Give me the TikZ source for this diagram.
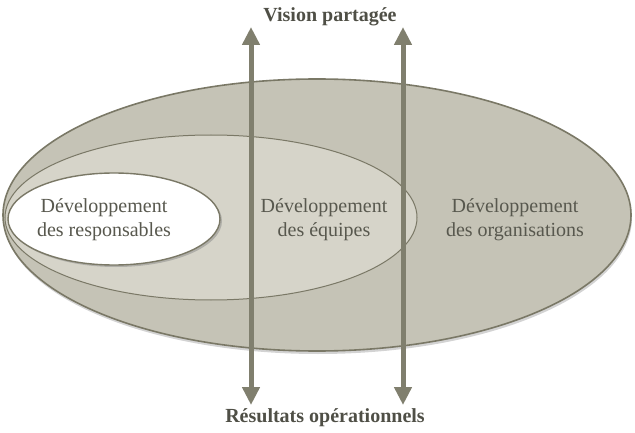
\documentclass[tikz,border=0pt]{standalone}
\usepackage{fontspec}
\setmainfont{Liberation Serif}
\usepackage{tikz}
\usetikzlibrary{shapes.geometric, arrows.meta, positioning, shadows}
\definecolor{rimgray}{RGB}{122,120,102}
\definecolor{arrowgray}{RGB}{128,127,110}
\definecolor{outerfill}{RGB}{197,195,182}
\definecolor{innerfill}{RGB}{214,212,201}
\definecolor{textgray}{RGB}{88,88,78}

\begin{document}
\begin{tikzpicture}[
  x=1pt, y=-1pt,
  zone/.style={ellipse, draw=rimgray, inner sep=0pt},
  lbl/.style={font=\fontsize{20}{24}\selectfont, color=textgray, align=center},
  head/.style={font=\fontsize{20}{24}\selectfont\bfseries, color=textgray!90!black},
  flow/.style={{Triangle[width=17pt,length=18pt]}-{Triangle[width=17pt,length=18pt]},
               line width=5pt, arrowgray},
]
\useasboundingbox (0,0) rectangle (635,433);

%% Nested zones
\node[zone, fill=outerfill, line width=1.6pt, minimum width=628pt, minimum height=272pt,
      drop shadow={shadow xshift=1pt, shadow yshift=-3pt, opacity=0.35}]
      (orgs) at (317,215) {};
\node[zone, fill=innerfill, line width=1pt, minimum width=412pt, minimum height=165pt]
      (equipes) at (211,217.5) {};
\node[zone, fill=white, line width=1.4pt, minimum width=212pt, minimum height=92pt,
      drop shadow={shadow xshift=2pt, shadow yshift=-2pt, opacity=0.45}]
      (resp) at (114,219) {};

%% Zone labels
\node[lbl] (tresp) at (104,220) {Développement\\des responsables};
\node[lbl] (tequipes) at (324,220) {Développement\\des équipes};
\node[lbl] (torgs) at (515,220) {Développement\\des organisations};

%% Top / bottom labels
\node[head] (vision) at (330,17) {Vision partagée};
\node[head] (resultats) at (325,418) {Résultats opérationnels};

%% Vertical arrows
\coordinate (lt) at (251,27);
\coordinate (lb) at (251,405);
\coordinate (rt) at (403,27);
\coordinate (rb) at (403,405);
\draw[flow] (lb) -- (lt);
\draw[flow] (rb) -- (rt);

\end{tikzpicture}
\end{document}
